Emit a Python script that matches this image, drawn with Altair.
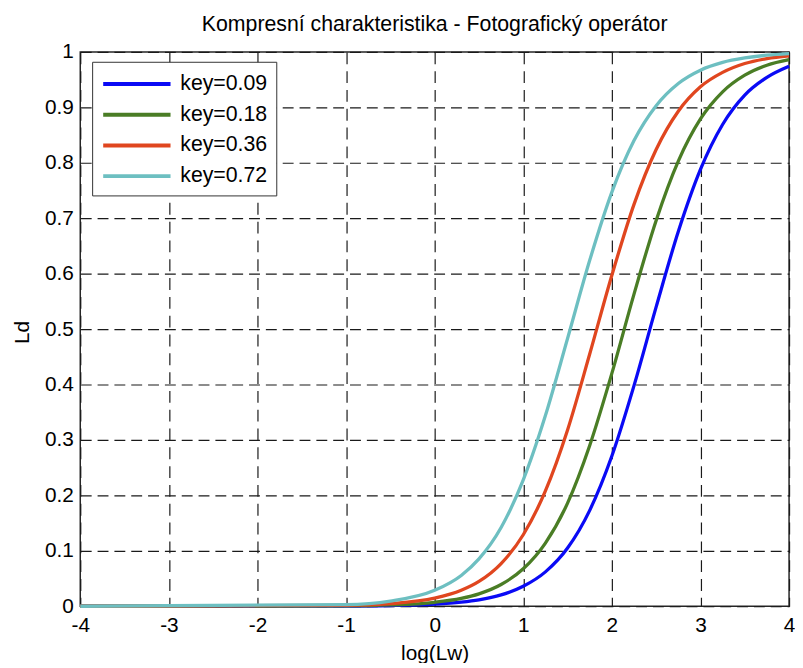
import altair as alt
import pandas as pd

# values
x_vals = [-4.0, -1.0, -0.5, 0.0, 0.3, 0.5, 0.75, 1.0, 1.25, 1.5, 1.75, 2.0,
          2.25, 2.5, 2.75, 3.0, 3.25, 3.5, 3.75, 4.0]
ld_009 = [0.0, 0.0004, 0.0012, 0.0037, 0.0074, 0.0116, 0.0205, 0.036, 0.062,
          0.105, 0.173, 0.271, 0.398, 0.540, 0.676, 0.788, 0.869, 0.922, 0.954, 0.974]
ld_018 = [0.0, 0.0007, 0.0023, 0.0072, 0.0142, 0.0224, 0.0392, 0.0676, 0.114,
          0.186, 0.290, 0.420, 0.563, 0.696, 0.803, 0.879, 0.928, 0.958, 0.976, 0.986]
ld_036 = [0.0, 0.0015, 0.0047, 0.0146, 0.0287, 0.0447, 0.0769, 0.129, 0.208,
          0.318, 0.455, 0.597, 0.725, 0.824, 0.893, 0.937, 0.963, 0.979, 0.988, 0.993]
ld_072 = [0.0, 0.0029, 0.0093, 0.0287, 0.0556, 0.0854, 0.142, 0.228, 0.344,
          0.483, 0.624, 0.747, 0.840, 0.903, 0.943, 0.967, 0.981, 0.989, 0.994, 0.997]

series_names = ["key=0.09", "key=0.18", "key=0.36", "key=0.72"]
series_colors = ["#0a0af5", "#4a7d25", "#e0461f", "#6dbfc1"]
x_ticks = [-4, -3, -2, -1, 0, 1, 2, 3, 4]
y_ticks = [0, 0.1, 0.2, 0.3, 0.4, 0.5, 0.6, 0.7, 0.8, 0.9, 1]

rows = []
for name, vals in zip(series_names, [ld_009, ld_018, ld_036, ld_072]):
    for xv, yv in zip(x_vals, vals):
        rows.append({"x": xv, "ld": yv, "series": name})
df = pd.DataFrame(rows)

FONT = "Liberation Sans"

chart = alt.Chart(df).mark_line(strokeWidth=3.3, interpolate="monotone").encode(
    x=alt.X("x:Q",
            scale=alt.Scale(domain=[-4, 4], nice=False, zero=False),
            axis=alt.Axis(values=x_ticks, title="log(Lw)", labelPadding=9,
                          labelFlush=False, labelExpr="'' + datum.value",
                          titleY=54, titleBaseline="alphabetic",
                          gridDash=[12, 7])),
    y=alt.Y("ld:Q",
            scale=alt.Scale(domain=[0, 1], nice=False),
            axis=alt.Axis(values=y_ticks, format=".1~f", title="Ld",
                          labelPadding=7, labelFlush=False,
                          titleX=-52, titleY=283,
                          titleBaseline="alphabetic", gridDash=[11, 6])),
    color=alt.Color("series:N",
                    scale=alt.Scale(domain=series_names, range=series_colors),
                    legend=alt.Legend(title=None, orient="none", legendX=12, legendY=10,
                                      symbolType="M-1,0H5", symbolSize=514,
                                      symbolStrokeWidth=4, labelFontSize=21.5,
                                      labelFont=FONT, labelColor="black",
                                      strokeColor="#333333", fillColor="white",
                                      padding=9, rowPadding=7, labelOffset=53)),
).properties(
    width=716,
    height=560,
    title=alt.TitleParams(text="Kompresní charakteristika - Fotografický operátor",
                          font=FONT, fontSize=21.5, fontWeight="normal", color="black",
                          offset=6, anchor="middle"),
    autosize=alt.AutoSizeParams(type="none"),
    padding={"left": 73, "top": 41, "right": 6, "bottom": 54},
).configure_axis(
    domain=False,
    ticks=False,
    grid=True,
    gridColor="#1a1a1a",
    gridWidth=1.2,
    gridOpacity=1,
    labelFont=FONT,
    labelFontSize=21,
    labelColor="black",
    titleFont=FONT,
    titleFontSize=21,
    titleFontWeight="normal",
    titleColor="black",
).configure_view(
    stroke="#262626",
    strokeWidth=1.5,
)

chart.save("out.html", embed_options={"renderer": "svg", "actions": False})
